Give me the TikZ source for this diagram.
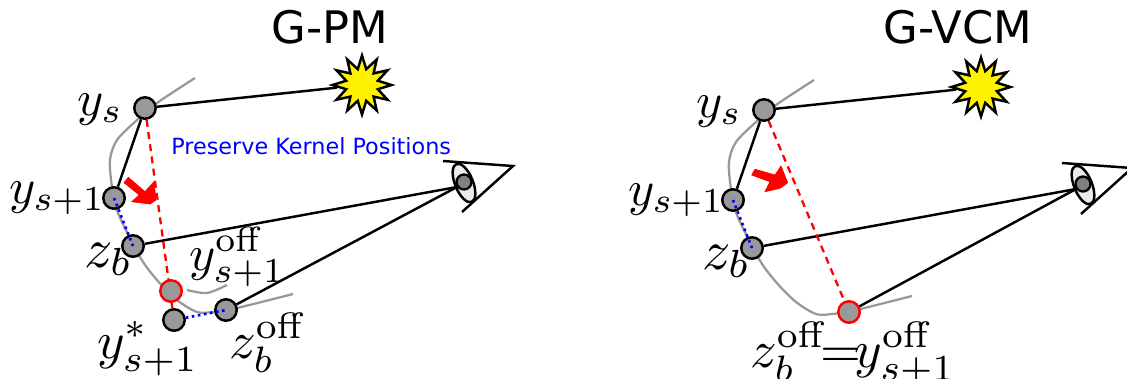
\documentclass[tikz,border=0pt]{standalone}
\usepackage{amsmath}
\usepackage[no-math]{fontspec}
\setmainfont{DejaVu Sans}
\usetikzlibrary{shapes.geometric}
\tikzset{
  vertex/.style={circle, draw=black, line width=1.4pt, fill=black!40, minimum size=0.43cm, inner sep=0pt},
  offvertex/.style={vertex, draw=red},
  light/.style={star, star points=12, star point ratio=1.8, draw=black, line width=1.4pt, fill=yellow, minimum size=1.18cm, inner sep=0pt},
  lens/.style={ellipse, draw=black, line width=1.4pt, fill=black!8, minimum width=0.82cm, minimum height=0.36cm, inner sep=0pt, rotate=-68},
  pupil/.style={circle, draw=black, line width=1.3pt, fill=black!50, minimum size=0.30cm, inner sep=0pt},
  ray/.style={line width=1.4pt},
  surface/.style={line width=1.3pt, black!40},
  pathdash/.style={red, line width=1.3pt, dash pattern=on 4pt off 3pt},
  kernel/.style={blue, line width=1.5pt, dotted},
  mathlabel/.style={anchor=base west, inner sep=0pt, scale=2.85},
  biglabel/.style={mathlabel, scale=1.12},
  title/.style={anchor=base, inner sep=0pt, font=\fontsize{25.5}{26}\selectfont},
}
\begin{document}
\begin{tikzpicture}[x=0.02cm, y=-0.02cm]
  \useasboundingbox (0,0) rectangle (1127,379);
  \clip (0,0) rectangle (1127,379);

  % G-PM
  \node[title] (titlePM) at (330,43) {G-PM};
  \draw[surface] plot[smooth] coordinates {(195,78) (157,103) (137,120) (117,140) (110,160) (112,187) (118,213) (140,257) (157,280) (177,300) (197,312) (213,312) (237,308) (293,294)};
  \draw[surface] plot[smooth] coordinates {(187,290) (207,293) (227,285)};

  \node[vertex] (ysA) at (145,108) {};
  \node[vertex] (ysnextA) at (114,198) {};
  \node[vertex] (zbA) at (133,246) {};
  \node[vertex] (ystarA) at (174,320) {};
  \node[vertex] (zboffA) at (226,310) {};
  \node[light] (sunA) at (362,85) {};
  \node[lens] (lensA) at (464,183) {};
  \node[pupil] (pupilA) at (464,182) {};
  \coordinate (eyeA) at (457,187);
  \coordinate (eyetopA) at (443,161);
  \coordinate (eyetipA) at (513,166);
  \coordinate (eyebotA) at (462,212);

  \draw[ray] (eyetopA) -- (eyetipA) -- (eyebotA);
  \draw[ray] (ysA) -- (sunA);
  \draw[ray] (ysA) -- (ysnextA);
  \draw[ray] (zbA) -- (eyeA);
  \draw[ray] (zboffA) -- (eyeA);
  \draw[pathdash] (ysA) -- (ystarA);
  \node[offvertex] (yoffA) at (171,291) {};
  \draw[kernel] (ysnextA.center) -- (zbA.center);
  \draw[kernel] (ystarA) -- (zboffA.center);
  \fill[red, draw=red, line join=round] (128.3,177.3) -- (124,182.7) -- (139.3,195) -- (131.7,201.7) -- (150,204) -- (156,200) -- (154,181.7) -- (145,191.7) -- cycle;

  \node[anchor=base west, inner sep=0pt, text=blue, font=\fontsize{12.7}{13}\selectfont] (kernelnote) at (171,154) {Preserve Kernel Positions};
  \node[mathlabel] (ysnameA) at (76,115) {$y_s$};
  \node[mathlabel] (ysnextnameA) at (8,203) {$y_{s+1}$};
  \node[biglabel] (zbnameA) at (83,267) {$z_b$};
  \node[mathlabel] (yoffnameA) at (188,270) {$y_{s+1}^{\mathrm{off}}$};
  \node[mathlabel, scale=1.05] (ystarnameA) at (96,358) {$y_{s+1}^{*}$};
  \node[mathlabel, scale=1.05] (zboffnameA) at (228,358) {$z_b^{\mathrm{off}}$};

  % G-VCM
  \node[title] (titleVCM) at (958,43) {G-VCM};
  \draw[surface] plot[smooth] coordinates {(814,80) (776,105) (756,122) (736,142) (729,162) (731,189) (737,215) (759,259) (776,282) (796,302) (816,314) (832,314) (856,310) (912,296)};

  \node[vertex] (ysB) at (764,110) {};
  \node[vertex] (ysnextB) at (733,200) {};
  \node[vertex] (zbB) at (752,248) {};
  \node[offvertex] (zboffB) at (849,312) {};
  \node[light] (sunB) at (981,87) {};
  \node[lens] (lensB) at (1083,185) {};
  \node[pupil] (pupilB) at (1083,184) {};
  \coordinate (eyeB) at (1076,189);
  \coordinate (eyetopB) at (1062,163);
  \coordinate (eyetipB) at (1132,168);
  \coordinate (eyebotB) at (1081,214);

  \draw[ray] (eyetopB) -- (eyetipB) -- (eyebotB);
  \draw[ray] (ysB) -- (sunB);
  \draw[ray] (ysB) -- (ysnextB);
  \draw[ray] (zbB) -- (eyeB);
  \draw[ray] (zboffB) -- (eyeB);
  \draw[pathdash] (ysB) -- (zboffB);
  \draw[kernel] (ysnextB.center) -- (zbB.center);
  \fill[red, draw=red, line join=round] (755,169.3) -- (775,175) -- (781,166) -- (787.7,182.7) -- (780,188.3) -- (765,191.7) -- (770,181.7) -- (751.7,175) -- cycle;

  \node[mathlabel] (ysnameB) at (695,117) {$y_s$};
  \node[mathlabel] (ysnextnameB) at (627,205) {$y_{s+1}$};
  \node[biglabel] (zbnameB) at (701,269) {$z_b$};
  \node[mathlabel, scale=1.05] (zboffnameB) at (749,367) {$z_b^{\mathrm{off}}\!\!\mkern-1.5mu=\!\!\mkern-1.5mu y_{s+1}^{\mathrm{off}}$};
\end{tikzpicture}
\end{document}
